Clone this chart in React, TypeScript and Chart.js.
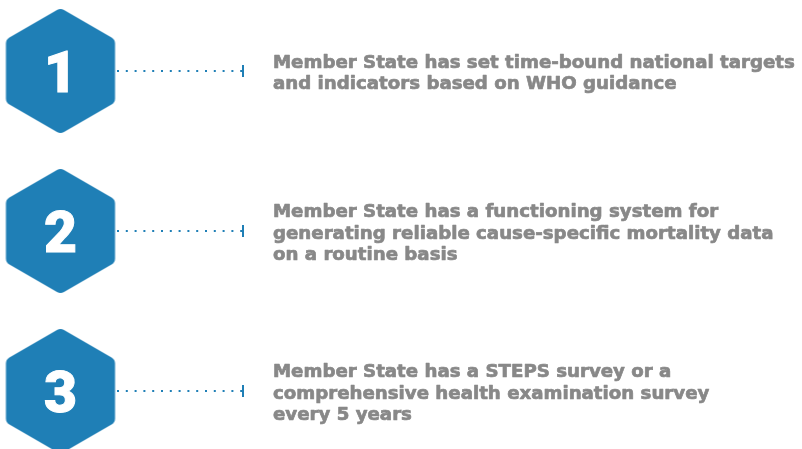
import React, { useEffect, useRef } from "react";
import { Chart, registerables } from "chart.js";

Chart.register(...registerables);

// ---- data ----
const stepIndex = [0, 1, 2];
const stepNumbers = ["1", "2", "3"];
const stepTexts: string[][] = [
  [
    "Member State has set time-bound national targets",
    "and indicators based on WHO guidance",
  ],
  [
    "Member State has a functioning system for",
    "generating reliable cause-specific mortality data",
    "on a routine basis",
  ],
  [
    "Member State has a STEPS survey or a",
    "comprehensive health examination survey",
    "every 5 years",
  ],
];

// ---- layout / style ----
const W = 802;
const H = 449;
const BLUE = "#1f7fb6";
const GRAY = "#888888";
const HEX_X = 60.5;
const HEX_R = 63;
const HEX_CORNER = 7;
const LINE_START = 117;
const LINE_END = 243;
const TEXT_X = 273;
const ROW_PX = 160;
const FIRST_ROW_PX = 71;
const LINE_GAP = 21.3;
const TEXT_FONT = 'bold 18.2px "DejaVu Sans"';
const NUM_FONT = '900 57px Roboto';

function makeHex(): HTMLCanvasElement {
  const w = Math.ceil(Math.sqrt(3) * HEX_R) + 4;
  const h = HEX_R * 2 + 4;
  const c = document.createElement("canvas");
  c.width = w;
  c.height = h;
  const ctx = c.getContext("2d")!;
  const cx = w / 2;
  const cy = h / 2;
  const pts: number[][] = [];
  for (let k = 0; k < 6; k++) {
    const a = -Math.PI / 2 + (k * Math.PI) / 3;
    pts.push([cx + HEX_R * Math.cos(a), cy + HEX_R * Math.sin(a)]);
  }
  const mid = (p: number[], q: number[]) => [(p[0] + q[0]) / 2, (p[1] + q[1]) / 2];
  const m0 = mid(pts[5], pts[0]);
  ctx.beginPath();
  ctx.moveTo(m0[0], m0[1]);
  for (let k = 0; k < 6; k++) {
    const p = pts[k];
    const n = pts[(k + 1) % 6];
    const m = mid(p, n);
    ctx.arcTo(p[0], p[1], m[0], m[1], HEX_CORNER);
  }
  ctx.closePath();
  ctx.fillStyle = BLUE;
  ctx.fill();
  return c;
}

const stepLabelPlugin = {
  id: "stepLabels",
  afterDatasetsDraw(chart: any) {
    const ctx = chart.ctx as CanvasRenderingContext2D;
    const meta = chart.getDatasetMeta(0);
    meta.data.forEach((el: any, i: number) => {
      const x = el.x;
      const y = el.y;
      ctx.save();
      ctx.fillStyle = "#ffffff";
      ctx.strokeStyle = "#ffffff";
      ctx.lineWidth = 1;
      ctx.font = NUM_FONT;
      ctx.textAlign = "center";
      ctx.textBaseline = "alphabetic";
      ctx.fillText(stepNumbers[i], x, y + 20.5);
      ctx.strokeText(stepNumbers[i], x, y + 20.5);
      ctx.fillStyle = GRAY;
      ctx.strokeStyle = GRAY;
      ctx.lineWidth = 0.7;
      ctx.lineJoin = "round";
      ctx.font = TEXT_FONT;
      ctx.textAlign = "left";
      const lines = stepTexts[i];
      const n = lines.length;
      lines.forEach((line, k) => {
        const by = y + 7.5 + (k - (n - 1) / 2) * LINE_GAP;
        ctx.fillText(line, TEXT_X, by);
        ctx.strokeText(line, TEXT_X, by);
      });
      ctx.restore();
    });
  },
};

export default function App() {
  const ref = useRef<HTMLCanvasElement | null>(null);
  useEffect(() => {
    if (!ref.current) return;
    const hex = makeHex();
    const yMin = -FIRST_ROW_PX / ROW_PX;
    const yMax = (H - FIRST_ROW_PX) / ROW_PX;
    const datasets: any[] = [
      {
        label: "steps",
        data: stepIndex.map((i) => ({ x: HEX_X, y: i })),
        pointStyle: hex,
        pointRadius: 10,
        clip: false,
      },
      ...stepIndex.map((i) => ({
        label: "connector " + stepNumbers[i],
        data: [
          { x: LINE_START, y: i },
          { x: LINE_END, y: i },
        ],
        showLine: true,
        borderColor: BLUE,
        borderWidth: 2,
        borderDash: [2, 6.8],
        pointStyle: "line",
        pointRadius: [0, 6],
        pointRotation: 90,
        pointBorderColor: BLUE,
        pointBorderWidth: 2,
        pointBackgroundColor: BLUE,
        clip: false,
      })),
    ];
    const chart = new Chart(ref.current, {
      type: "scatter",
      data: { datasets },
      options: {
        animation: false,
        responsive: false,
        devicePixelRatio: 1,
        events: [],
        layout: { padding: 0, autoPadding: false },
        plugins: { legend: { display: false }, tooltip: { enabled: false } },
        scales: {
          x: { type: "linear", min: 0, max: W, display: false },
          y: { type: "linear", min: yMin, max: yMax, reverse: true, display: false },
        },
      },
      plugins: [stepLabelPlugin],
    });
    return () => chart.destroy();
  }, []);
  return (
    <div style={{ position: "fixed", left: 0, top: 0, width: W, height: H, background: "#fff" }}>
      <canvas ref={ref} width={W} height={H} />
    </div>
  );
}
